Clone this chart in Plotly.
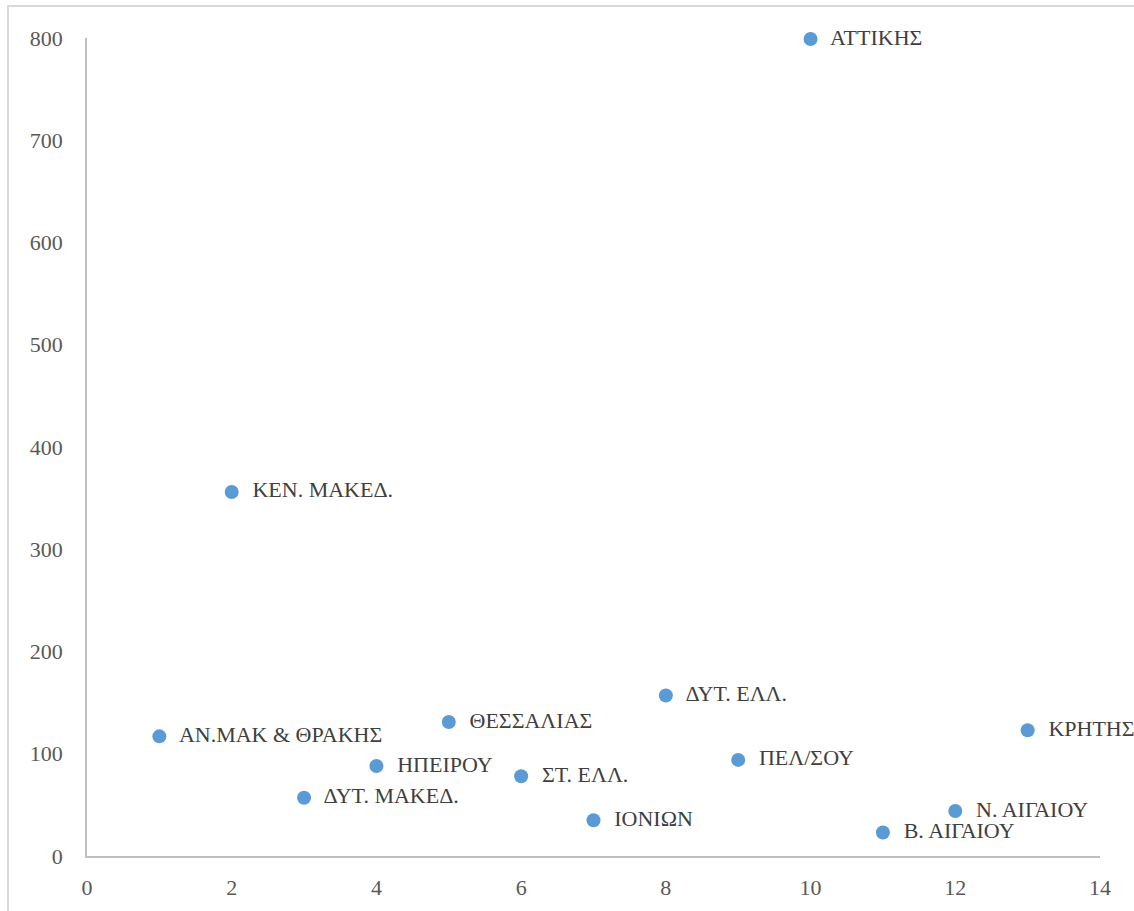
import plotly.graph_objects as go

regions = ["ΑΝ.ΜΑΚ & ΘΡΑΚΗΣ", "ΚΕΝ. ΜΑΚΕΔ.", "ΔΥΤ. ΜΑΚΕΔ.", "ΗΠΕΙΡΟΥ", "ΘΕΣΣΑΛΙΑΣ",
           "ΣΤ. ΕΛΛ.", "ΙΟΝΙΩΝ", "ΔΥΤ. ΕΛΛ.", "ΠΕΛ/ΣΟΥ", "ΑΤΤΙΚΗΣ",
           "Β. ΑΙΓΑΙΟΥ", "Ν. ΑΙΓΑΙΟΥ", "ΚΡΗΤΗΣ"]
x_vals = [1, 2, 3, 4, 5, 6, 7, 8, 9, 10, 11, 12, 13]
y_vals = [117, 356, 57, 88, 131, 78, 35, 157, 94, 799, 23, 44, 123]
x_ticks = [0, 2, 4, 6, 8, 10, 12, 14]
y_ticks = [0, 100, 200, 300, 400, 500, 600, 700, 800]

FONT = "Liberation Serif"

fig = go.Figure()
fig.add_trace(go.Scatter(
    x=x_vals, y=y_vals, mode="markers+text",
    text=["  " + r for r in regions], textposition="middle right",
    textfont=dict(family=FONT, size=22, color="#404040"),
    marker=dict(size=14, color="#5B9BD5"),
    cliponaxis=False, showlegend=False,
))

fig.update_layout(
    width=1134, height=911,
    margin=dict(l=87, r=34, t=38, b=55),
    paper_bgcolor="white", plot_bgcolor="white",
    font=dict(family=FONT, size=22, color="#595959"),
    xaxis=dict(range=[0, 14], tickvals=x_ticks, showgrid=False, zeroline=False,
               showline=True, linecolor="#BFBFBF", linewidth=1.5,
               ticks="", ticklabelstandoff=11),
    yaxis=dict(range=[0, 800], tickvals=y_ticks, showgrid=False, zeroline=False,
               showline=True, linecolor="#BFBFBF", linewidth=1.5,
               ticks="", ticklabelstandoff=18),
    shapes=[dict(type="rect", xref="paper", yref="paper",
                 x0=-0.078, x1=1.2, y0=-0.3, y1=1.039,
                 line=dict(color="#D9D9D9", width=2), fillcolor="rgba(0,0,0,0)")],
)

fig.write_html("out.html", config={"displayModeBar": False},
               post_script="document.body.style.margin='0px';document.body.style.overflow='hidden';")
